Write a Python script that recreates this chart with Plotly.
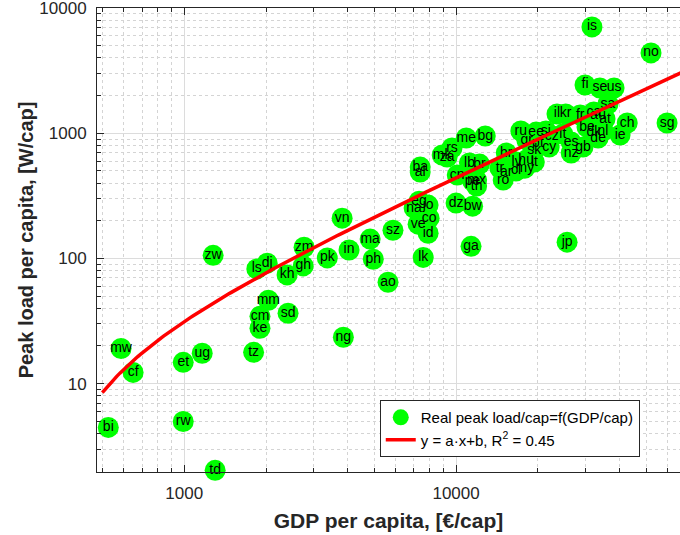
import numpy as np
import plotly.graph_objects as go

countries = ["is","no","lu","sg","fi","se","us","sa","il","kr","fr","ca","au","at","ch","ie",
             "be","dk","nl","de","gb","es","nz","it","cz","si","ee","ru","gr","pt","sk","cy",
             "hr","lv","hu","lt","my","tr","ar","cl","ro","me","bg","rs","mk","za","ba","al",
             "lb","br","cn","pe","mx","th","dz","bw","eg","na","jo","co","ve","id","sz","lk",
             "ga","jp","vn","zm","pk","in","ma","ph","ao","zw","dj","ls","kh","gh","mm","cm",
             "sd","ke","ng","tz","mw","ug","et","cf","bi","rw","td"]
gdp = [31600,52100,68400,59700,29800,33800,38100,36200,23500,25300,28600,32100,33300,35300,42600,40100,
       30300,32100,34700,33300,29300,26500,26500,24700,22500,21400,19700,17300,18200,20000,19400,22000,
       15300,16700,18100,19400,17900,14500,15300,16600,14900,10900,12800,9660,8890,9270,7380,7380,
       11200,12200,10100,11500,11900,11900,10000,11500,7310,7010,7890,7960,7250,7890,5860,7570,
       11350,25600,3810,2760,3360,4040,4830,4960,5620,1278,2020,1850,2390,2740,2040,1900,
       2410,1900,3850,1800,586,1165,992,649,526,992,1300]
peak = [7080,4390,2140,1208,2432,2303,2303,1714,1427,1427,1400,1480,1380,1301,1208,969,
        1122,1023,1043,917,777,851,696,986,951,1043,1023,1043,884,836,735,777,
        696,589,611,589,527,527,490,500,423,917,951,763,671,646,537,490,
        579,568,464,415,423,379,277,262,287,253,267,210,188,159,168,102,
        125,135,210,123,101,117,143,98.6,64.6,106,91.7,82.6,73.9,87.3,46.4,34.5,
        36.5,27.7,23.5,17.8,19.1,17.5,14.8,12.3,4.47,4.99,2.03]

x_ticks = [1000, 10000]
x_tick_text = ["1000", "10000"]
y_ticks = [10, 100, 1000, 10000]
y_tick_text = ["10", "100", "1000", "10000"]

fit_a = 0.04556
fit_b = -14.3
fit_x = np.logspace(np.log10(500), np.log10(70000), 200)
fit_y = fit_a * fit_x + fit_b

FONT = "Liberation Sans, Arial, Helvetica, sans-serif"
AX = "#262626"

fig = go.Figure()
fig.add_trace(go.Scatter(x=gdp, y=peak, mode="markers", name="Real peak load/cap=f(GDP/cap)",
                         marker=dict(size=21, color="#00ff00", line=dict(width=0)),
                         cliponaxis=False))
fig.add_trace(go.Scatter(x=gdp, y=peak, mode="text", text=countries, showlegend=False,
                         textposition="middle center",
                         textfont=dict(family=FONT, size=14, color="black"),
                         cliponaxis=False))
fig.add_trace(go.Scatter(x=fit_x, y=fit_y, mode="lines", name="y = a·x+b, R<sup>2</sup> = 0.45",
                         line=dict(color="#ff0000", width=3.5)))

common = dict(type="log", showline=True, linecolor=AX, linewidth=1,
              ticks="inside", ticklen=7, tickcolor=AX, showgrid=True, gridcolor="#dcdcdc", gridwidth=1,
              tickfont=dict(family=FONT, size=17, color=AX), zeroline=False, automargin=False,
              ticklabelstandoff=6, ticklabeloverflow="allow",
              minor=dict(dtick="D1", ticks="inside", ticklen=4, tickcolor=AX, showgrid=True,
                         gridcolor="#d4d4d4", griddash="dot", gridwidth=1))

fig.update_xaxes(**common, range=[np.log10(478), np.log10(66600)], mirror="ticks",
                 tickmode="array", tickvals=x_ticks, ticktext=x_tick_text,
                 title=dict(text="<b>GDP per capita, [€/cap]</b>", standoff=10,
                            font=dict(family=FONT, size=21, color=AX)))
fig.update_yaxes(**common, range=[np.log10(1.97), 4.001], mirror=False,
                 tickmode="array", tickvals=y_ticks, ticktext=y_tick_text,
                 title=dict(text="<b>Peak load per capita, [W/cap]</b>", standoff=0,
                            font=dict(family=FONT, size=20, color=AX)))

fig.update_layout(width=680, height=535, margin=dict(l=97, r=0, t=8, b=63),
                  plot_bgcolor="white", paper_bgcolor="white",
                  legend=dict(x=0.485, y=0.155, xanchor="left", yanchor="top",
                              bgcolor="white", bordercolor=AX, borderwidth=1,
                              font=dict(family=FONT, size=15, color="black"),
                              tracegroupgap=0, itemwidth=30))
fig.write_html("out.html")
